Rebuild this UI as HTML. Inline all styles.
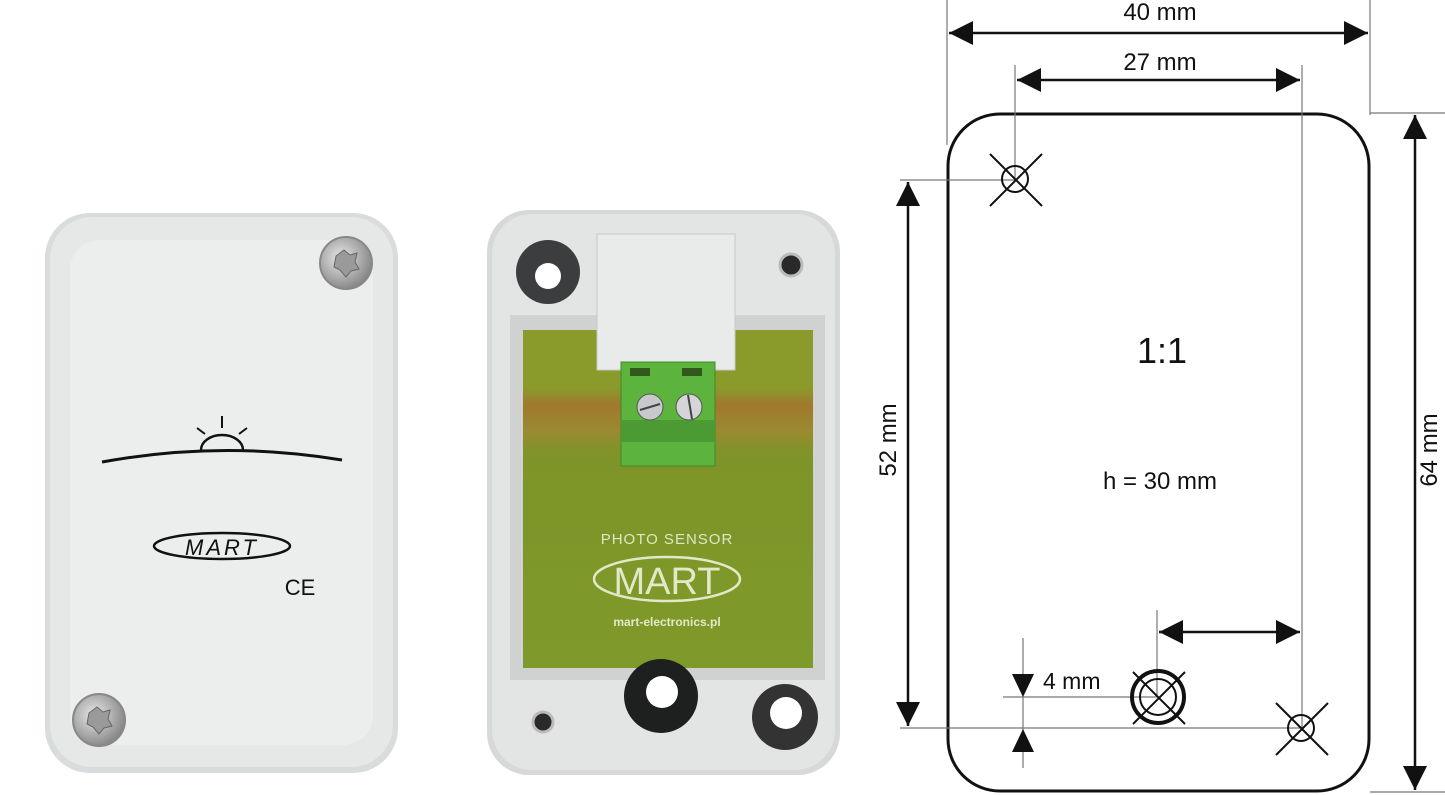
<!DOCTYPE html>
<html><head><meta charset="utf-8"><style>
html,body{margin:0;padding:0;background:#fff;}
svg{display:block;}
text{font-family:"Liberation Sans",sans-serif;}
</style></head><body>
<svg width="1445" height="795" viewBox="0 0 1445 795" xmlns="http://www.w3.org/2000/svg">
<defs>
<marker id="a" viewBox="0 0 10 10" refX="10" refY="5" markerWidth="24" markerHeight="24" markerUnits="userSpaceOnUse" orient="auto-start-reverse"><path d="M0,0L10,5L0,10z" fill="#111"/></marker>
<radialGradient id="scr" cx="0.4" cy="0.4" r="0.7"><stop offset="0" stop-color="#e8e8e8"/><stop offset="1" stop-color="#7a7a7a"/></radialGradient>
<linearGradient id="pcb" x1="0" y1="0" x2="0" y2="1"><stop offset="0" stop-color="#8a9b2c"/><stop offset="0.17" stop-color="#8a9b2c"/><stop offset="0.22" stop-color="#a0792e"/><stop offset="0.3" stop-color="#9a8a30"/><stop offset="0.36" stop-color="#7e9428"/><stop offset="1" stop-color="#7e9a2a"/></linearGradient>
</defs>

<!-- Left cover -->
<rect x="45" y="213" width="353" height="560" rx="45" fill="#d9dcdc"/>
<rect x="50" y="217" width="343" height="550" rx="42" fill="#e6e8e8"/>
<rect x="70" y="240" width="303" height="505" rx="30" fill="#eceeee"/>
<circle cx="346" cy="263" r="26" fill="url(#scr)" stroke="#888" stroke-width="2"/>
<path d="M336,256 l8,-6 l6,5 l7,-2 l-2,9 l4,7 l-8,2 l-5,6 l-6,-7 l-6,-3z" fill="#9a9a9a" stroke="#666"/>
<circle cx="99" cy="720" r="26" fill="url(#scr)" stroke="#888" stroke-width="2"/>
<path d="M89,713 l8,-6 l6,5 l7,-2 l-2,9 l4,7 l-8,2 l-5,6 l-6,-7 l-6,-3z" fill="#9a9a9a" stroke="#666"/>
<path d="M102,462 Q222,440 342,460" stroke="#111" stroke-width="3" fill="none"/>
<path d="M201,450 a21,15 0 0 1 42,0" stroke="#111" stroke-width="2.5" fill="none"/>
<path d="M222,428 v-12 M205,434 l-8,-6 M239,434 l8,-6" stroke="#111" stroke-width="2"/>
<ellipse cx="222" cy="546" rx="68" ry="13" fill="none" stroke="#111" stroke-width="2.5"/>
<text x="222" y="555" text-anchor="middle" font-size="22" font-style="italic" fill="#111" letter-spacing="3">MART</text>
<text x="300" y="595" text-anchor="middle" font-size="22" fill="#111">CE</text>

<!-- Middle box -->
<rect x="487" y="210" width="353" height="565" rx="42" fill="#d6d9d8"/>
<rect x="492" y="214" width="343" height="556" rx="40" fill="#e3e5e4"/>
<rect x="510" y="315" width="315" height="365" fill="#cfd2d0"/>
<rect x="523" y="330" width="290" height="338" fill="url(#pcb)"/>
<rect x="597" y="234" width="138" height="136" fill="#e9eaea" stroke="#c8c8c8"/>
<rect x="621" y="362" width="94" height="104" fill="#5cb33e" stroke="#3f8a28"/>
<rect x="630" y="368" width="20" height="8" fill="#2f5a1c"/><rect x="682" y="368" width="20" height="8" fill="#2f5a1c"/>
<rect x="621" y="420" width="94" height="22" fill="#4c9a33"/>
<circle cx="650" cy="407" r="13" fill="#c7c9cc" stroke="#555"/><line x1="640" y1="410" x2="660" y2="404" stroke="#444" stroke-width="2"/>
<circle cx="689" cy="407" r="13" fill="#d5d4d8" stroke="#555"/><line x1="688" y1="395" x2="692" y2="419" stroke="#444" stroke-width="2"/>
<text x="667" y="544" text-anchor="middle" font-size="15" fill="#dfe6c4" letter-spacing="1">PHOTO SENSOR</text>
<ellipse cx="667" cy="579" rx="73" ry="22" fill="none" stroke="#e2e8c8" stroke-width="2.5"/>
<text x="667" y="594" text-anchor="middle" font-size="38" fill="#e2e8c8">MART</text>
<text x="667" y="626" text-anchor="middle" font-size="12" font-weight="bold" fill="#e2e8c8" font-family="Liberation Mono">mart-electronics.pl</text>
<circle cx="548" cy="272" r="32" fill="#3c3d3e"/><circle cx="548" cy="276" r="13" fill="#fff"/>
<circle cx="791" cy="265" r="11" fill="#2a2a2a" stroke="#bbb" stroke-width="3"/>
<circle cx="661" cy="696" r="37" fill="#1e1f1f"/><circle cx="662" cy="692" r="16" fill="#fff"/>
<circle cx="785" cy="717" r="33" fill="#333"/><circle cx="786" cy="713" r="16" fill="#fff"/>
<circle cx="543" cy="722" r="10" fill="#2a2a2a" stroke="#bbb" stroke-width="3"/>

<!-- Right diagram -->
<rect x="948" y="114" width="421" height="677" rx="52" fill="none" stroke="#111" stroke-width="3"/>
<g stroke="#777" stroke-width="1.2">
<line x1="947" y1="0" x2="947" y2="145"/>
<line x1="1370" y1="0" x2="1370" y2="115"/>
<line x1="1015" y1="65" x2="1015" y2="180"/>
<line x1="1302" y1="65" x2="1302" y2="730"/>
<line x1="1370" y1="113" x2="1445" y2="113"/>
<line x1="1370" y1="792" x2="1445" y2="792"/>
<line x1="900" y1="180" x2="1015" y2="180"/>
<line x1="900" y1="728" x2="1302" y2="728"/>
<line x1="1157" y1="610" x2="1157" y2="697"/>
<line x1="1003" y1="697" x2="1157" y2="697"/>
<line x1="1023" y1="638" x2="1023" y2="768"/>
</g>
<g stroke="#111" stroke-width="2.5" fill="none">
<line x1="949" y1="33" x2="1368" y2="33" marker-start="url(#a)" marker-end="url(#a)"/>
<line x1="1017" y1="80" x2="1300" y2="80" marker-start="url(#a)" marker-end="url(#a)"/>
<line x1="908" y1="182" x2="908" y2="726" marker-start="url(#a)" marker-end="url(#a)"/>
<line x1="1415" y1="115" x2="1415" y2="790" marker-start="url(#a)" marker-end="url(#a)"/>
<line x1="1159" y1="632" x2="1300" y2="632" marker-start="url(#a)" marker-end="url(#a)"/>
</g>
<path d="M1012,674 h22 l-11,23z" fill="#111"/>
<path d="M1012,752 h22 l-11,-23z" fill="#111"/>
<text x="1160" y="20" text-anchor="middle" font-size="24" fill="#111">40 mm</text>
<text x="1160" y="70" text-anchor="middle" font-size="24" fill="#111">27 mm</text>
<text x="1162" y="363" text-anchor="middle" font-size="36" fill="#111">1:1</text>
<text x="1160" y="489" text-anchor="middle" font-size="24" fill="#111">h = 30 mm</text>
<text x="1043" y="689" font-size="23" fill="#111">4 mm</text>
<text transform="translate(896,440) rotate(-90)" text-anchor="middle" font-size="24" fill="#111">52 mm</text>
<text transform="translate(1437,450) rotate(-90)" text-anchor="middle" font-size="24" fill="#111">64 mm</text>
<g stroke="#111" stroke-width="2" fill="none">
<circle cx="1015" cy="179" r="13"/><path d="M990,154 L1042,206 M1042,154 L990,206"/>
<circle cx="1301" cy="728" r="13"/><path d="M1276,703 L1328,755 M1328,703 L1276,755"/>
<circle cx="1158" cy="697" r="26" stroke-width="4"/><circle cx="1158" cy="697" r="18"/><path d="M1133,672 L1185,724 M1185,672 L1133,724"/>
</g>
</svg>
</body></html>
